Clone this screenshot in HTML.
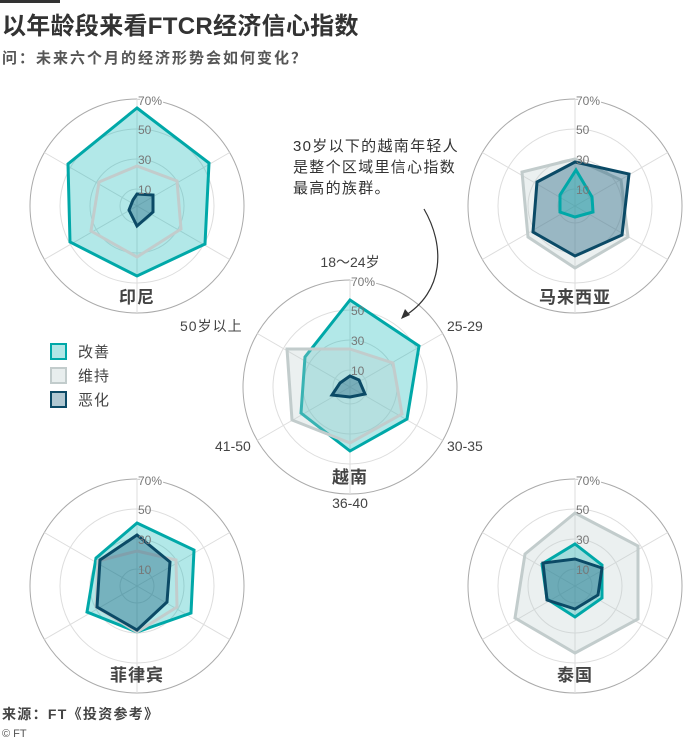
<!DOCTYPE html>
<html><head><meta charset="utf-8"><style>
html,body{margin:0;padding:0;background:#fff;}
svg{display:block;font-family:"Liberation Sans","Noto Sans CJK SC",sans-serif;}
.tick{font-size:12px;fill:#777;}
.ax{font-size:14px;fill:#444;}
.cn{font-size:17px;fill:#444;font-weight:bold;text-anchor:middle;letter-spacing:1px;}
.t{stroke:#00a8a8;stroke-width:3;fill:rgba(0,178,178,0.3);stroke-linejoin:miter;}
.g{stroke:#c2cccc;stroke-width:3;fill:rgba(190,205,205,0.3);}
.d{stroke:#0b4a66;stroke-width:3;fill:rgba(20,90,120,0.38);}
</style></head><body>
<svg width="700" height="744" viewBox="0 0 700 744" xmlns="http://www.w3.org/2000/svg">
<defs>
<g id="grid">
<circle r="107" fill="none" stroke="#aaa" stroke-width="1"/>
<circle r="77" fill="none" stroke="#ddd" stroke-width="1"/>
<circle r="47" fill="none" stroke="#ddd" stroke-width="1"/>
<circle r="17" fill="none" stroke="#ddd" stroke-width="1"/>
<g stroke="#ddd" stroke-width="1">
<line x1="0" y1="0" x2="0" y2="-107"/><line x1="0" y1="0" x2="92.7" y2="-53.5"/>
<line x1="0" y1="0" x2="92.7" y2="53.5"/><line x1="0" y1="0" x2="0" y2="107"/>
<line x1="0" y1="0" x2="-92.7" y2="53.5"/><line x1="0" y1="0" x2="-92.7" y2="-53.5"/>
</g>
</g>
<g id="lab" class="tick">
<text x="1" y="-101" fill="#777" stroke="#fff" stroke-width="3" paint-order="stroke">70%</text>
<text x="1" y="-72" fill="#777">50</text>
<text x="1" y="-42" fill="#777">30</text>
<text x="1" y="-12" fill="#777">10</text>
</g>
</defs>

<rect x="0" y="0" width="60" height="3" fill="#333"/>
<text x="2" y="34" font-size="24" font-weight="bold" fill="#333" letter-spacing="0.3">以年龄段来看FTCR经济信心指数</text>
<text x="2" y="63" font-size="15" font-weight="bold" fill="#555" letter-spacing="2">问：未来六个月的经济形势会如何变化？</text>

<!-- Indonesia -->
<use href="#grid" x="137" y="206"/>
<polygon class="t" points="137,108 209,163 205,244 137,276 70,242 68,164"/>
<polygon class="g" points="137,166 177,181 181,229 137,257 91,231 99,182" style="fill:none"/>
<polygon class="d" points="137,194 153,195 153,212 137,226 129,210 133,200"/>
<use href="#lab" x="137" y="206"/>
<text class="cn" x="137" y="303">印尼</text>

<!-- Malaysia -->
<use href="#grid" x="575" y="206"/>
<polygon class="g" points="575,159 621,180 628,237 575,268 528,237 522,172"/>
<polygon class="d" points="575,162 629,174 622,235 575,256 533,232 537,182"/>
<polygon class="t" points="576,170 592,197 593,212 575,217 560,212 560,195"/>
<use href="#lab" x="575" y="206"/>
<text class="cn" x="575" y="303">马来西亚</text>

<!-- Vietnam -->
<use href="#grid" x="350" y="387"/>
<polygon class="t" points="350,300 419,346 407,419 350,451 301,413 305,357"/>
<polygon class="g" points="350,349 393,363 402,414 350,443 292,420 287,349"/>
<polygon class="d" points="350,376 359,380 365,394 350,397 332,395 340,383"/>
<use href="#lab" x="350" y="387"/>
<text class="cn" x="350" y="483">越南</text>
<text class="ax" x="350" y="267" text-anchor="middle">18～24岁</text>
<text class="ax" x="447" y="331">25-29</text>
<text class="ax" x="447" y="451">30-35</text>
<text class="ax" x="350" y="508" text-anchor="middle">36-40</text>
<text class="ax" x="215" y="451">41-50</text>
<text class="ax" x="180" y="331" letter-spacing="1">50岁以上</text>

<!-- Philippines -->
<use href="#grid" x="137" y="586"/>
<polygon class="t" points="137,523 194,550 191,613 137,632 87,612 96,558"/>
<polygon class="g" points="137,551 176,560 177,607 137,632 96,607 98,561" style="fill:none"/>
<polygon class="d" points="137,535 170,562 167,602 137,630 97,607 100,560"/>
<use href="#lab" x="137" y="586"/>
<text class="cn" x="137" y="681">菲律宾</text>

<!-- Thailand -->
<use href="#grid" x="575" y="586"/>
<polygon class="g" points="575,513 638,546 638,619 575,653 515,618 525,554"/>
<polygon class="t" points="575,544 602,565 602,598 575,617 547,599 542,564"/>
<polygon class="d" points="575,559 602,568 598,595 575,609 547,600 543,563"/>
<use href="#lab" x="575" y="586"/>
<text class="cn" x="575" y="681">泰国</text>

<!-- annotation -->
<text x="293" y="151" font-size="15" fill="#333" letter-spacing="1.3">30岁以下的越南年轻人</text>
<text x="293" y="172" font-size="15" fill="#333" letter-spacing="1.3">是整个区域里信心指数</text>
<text x="293" y="193" font-size="15" fill="#333" letter-spacing="1.3">最高的族群。</text>
<path d="M424,209 C445,245 445,292 403,317" fill="none" stroke="#333" stroke-width="1.2"/>
<polygon points="401,319 405,309 410,315" fill="#333"/>

<!-- legend -->
<rect x="51" y="344" width="15" height="15" fill="#b2e6e6" stroke="#00a8a8" stroke-width="2"/>
<text x="78" y="357" font-size="15" fill="#444" letter-spacing="1">改善</text>
<rect x="51" y="368" width="15" height="15" fill="#e8eeee" stroke="#c2cccc" stroke-width="2"/>
<text x="78" y="381" font-size="15" fill="#444" letter-spacing="1">维持</text>
<rect x="51" y="392" width="15" height="15" fill="#b0c8d2" stroke="#0b4a66" stroke-width="2"/>
<text x="78" y="405" font-size="15" fill="#444" letter-spacing="1">恶化</text>

<text x="2" y="719" font-size="14" font-weight="bold" fill="#444" letter-spacing="1.3">来源：FT《投资参考》</text>
<text x="2" y="737" font-size="11" fill="#555">© FT</text>
</svg>
</body></html>
